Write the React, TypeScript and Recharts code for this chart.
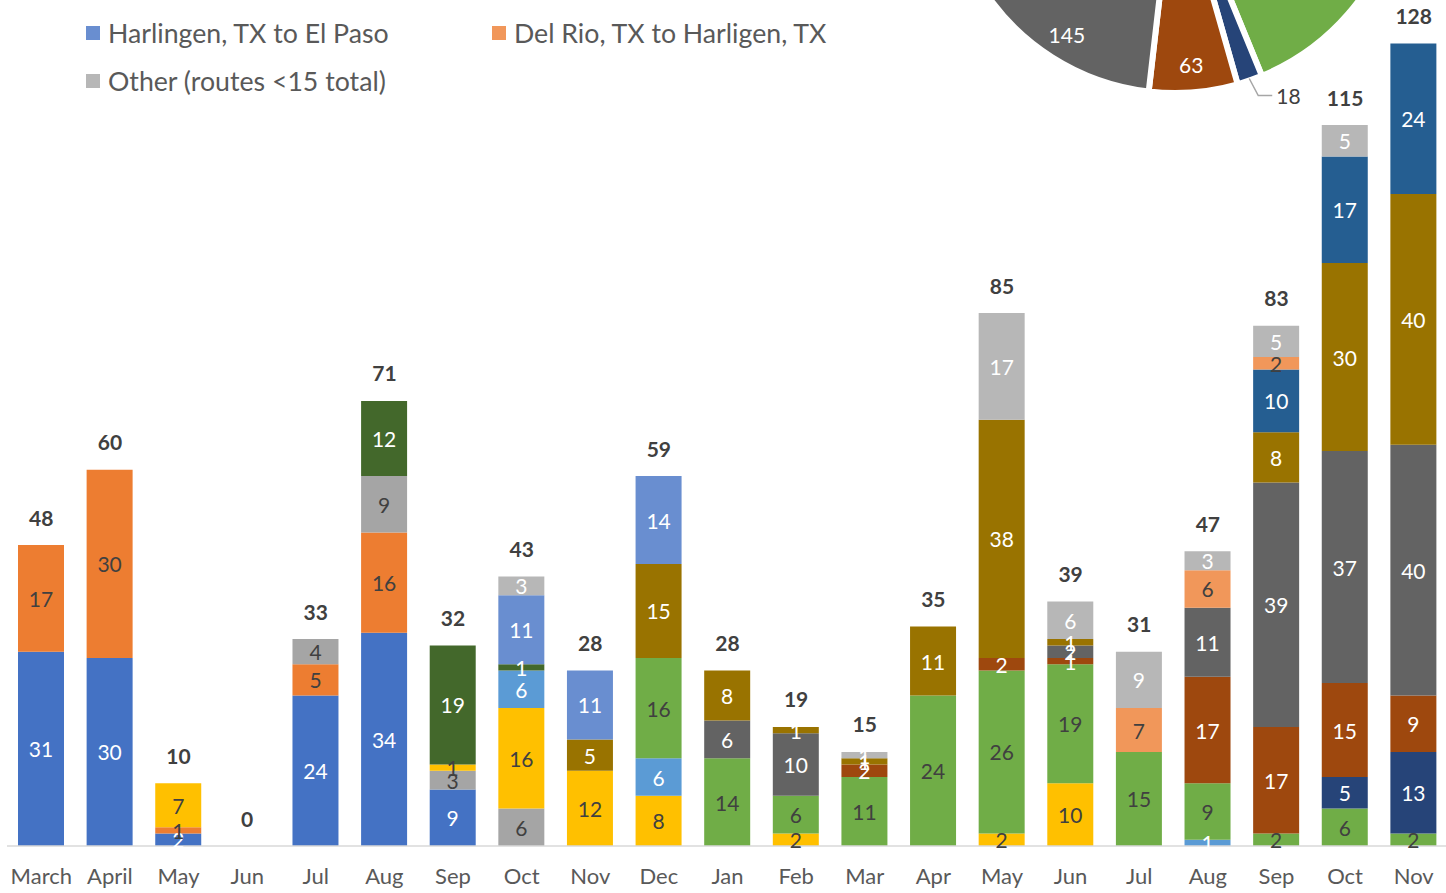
import { ComposedChart, Bar, Line, XAxis, YAxis, LabelList, PieChart, Pie, Cell } from 'recharts';

const months = [
  'March', 'April', 'May', 'Jun', 'Jul', 'Aug', 'Sep', 'Oct', 'Nov', 'Dec',
  'Jan', 'Feb', 'Mar', 'Apr', 'May', 'Jun', 'Jul', 'Aug', 'Sep', 'Oct', 'Nov',
];

// one array per route, 21 months each (0 = no trips that month)
const route1 = [31, 30, 2, 0, 24, 34, 9, 0, 0, 0, 0, 0, 0, 0, 0, 0, 0, 0, 0, 0, 0];
const route2 = [17, 30, 1, 0, 5, 16, 0, 0, 0, 0, 0, 0, 0, 0, 0, 0, 0, 0, 0, 0, 0];
const route3 = [0, 0, 0, 0, 4, 9, 3, 6, 0, 0, 0, 0, 0, 0, 0, 0, 0, 0, 0, 0, 0];
const route4 = [0, 0, 7, 0, 0, 0, 1, 16, 12, 8, 0, 2, 0, 0, 2, 10, 0, 0, 0, 0, 0];
const route5 = [0, 0, 0, 0, 0, 0, 0, 6, 0, 6, 0, 0, 0, 0, 0, 0, 0, 1, 0, 0, 0];
const route6 = [0, 0, 0, 0, 0, 0, 0, 0, 0, 16, 14, 6, 11, 24, 26, 19, 15, 9, 2, 6, 2];
const route7 = [0, 0, 0, 0, 0, 0, 0, 0, 0, 0, 0, 0, 0, 0, 0, 0, 0, 0, 0, 5, 13];
const route8 = [0, 0, 0, 0, 0, 0, 0, 0, 0, 0, 0, 0, 2, 0, 2, 1, 0, 17, 17, 15, 9];
const route9 = [0, 0, 0, 0, 0, 0, 0, 0, 0, 0, 6, 10, 0, 0, 0, 2, 0, 11, 39, 37, 40];
const route10 = [0, 0, 0, 0, 0, 0, 0, 0, 5, 15, 8, 1, 1, 11, 38, 1, 0, 0, 8, 30, 40];
const route11 = [0, 0, 0, 0, 0, 0, 0, 0, 0, 0, 0, 0, 0, 0, 0, 0, 0, 0, 10, 17, 24];
const route12 = [0, 0, 0, 0, 0, 12, 19, 1, 0, 0, 0, 0, 0, 0, 0, 0, 0, 0, 0, 0, 0];
const harlingenElPaso = [0, 0, 0, 0, 0, 0, 0, 11, 11, 14, 0, 0, 0, 0, 0, 0, 0, 0, 0, 0, 0];
const delRioHarlingen = [0, 0, 0, 0, 0, 0, 0, 0, 0, 0, 0, 0, 0, 0, 0, 0, 7, 6, 2, 0, 0];
const other = [0, 0, 0, 0, 0, 0, 0, 3, 0, 0, 0, 0, 1, 0, 17, 6, 9, 3, 5, 5, 0];

const series = [
  { key: 'r1', name: 'Route 1', values: route1, color: '#4472C4', dark: false },
  { key: 'r2', name: 'Route 2', values: route2, color: '#ED7D31', dark: true },
  { key: 'r3', name: 'Route 3', values: route3, color: '#A5A5A5', dark: true },
  { key: 'r4', name: 'Route 4', values: route4, color: '#FFC000', dark: true },
  { key: 'r5', name: 'Route 5', values: route5, color: '#5B9BD5', dark: false },
  { key: 'r6', name: 'Route 6', values: route6, color: '#70AD47', dark: true },
  { key: 'r7', name: 'Route 7', values: route7, color: '#264478', dark: false },
  { key: 'r8', name: 'Route 8', values: route8, color: '#9E480E', dark: false },
  { key: 'r9', name: 'Route 9', values: route9, color: '#636363', dark: false },
  { key: 'r10', name: 'Route 10', values: route10, color: '#997300', dark: false },
  { key: 'r11', name: 'Route 11', values: route11, color: '#255E91', dark: false },
  { key: 'r12', name: 'Route 12', values: route12, color: '#43682B', dark: false },
  { key: 'r13', name: 'Harlingen, TX to El Paso', values: harlingenElPaso, color: '#698ED0', dark: false },
  { key: 'r14', name: 'Del Rio, TX to Harligen, TX', values: delRioHarlingen, color: '#F1975A', dark: true },
  { key: 'r15', name: 'Other (routes <15 total)', values: other, color: '#B7B7B7', dark: false },
];

const legendShown = ['r13', 'r14', 'r15'];

const data = months.map((m, i) => {
  const row: Record<string, string | number> = { month: m };
  series.forEach((s) => (row[s.key] = s.values[i]));
  row.total = series.reduce((sum, s) => sum + s.values[i], 0);
  return row;
});
const pieData = series.map((s) => ({ name: s.name, value: s.values.reduce((a, b) => a + b, 0), color: s.color }));

const FONT = 'Lato, "Open Sans", sans-serif';
const RADIAN = Math.PI / 180;

function segmentLabel(dark: boolean) {
  return (props: any) => {
    const { x, y, width, height, value } = props;
    if (!value) return null;
    return (
      <text
        x={x + width / 2}
        y={y + height / 2}
        textAnchor="middle"
        dominantBaseline="central"
        fontSize={21}
        fontFamily={FONT}
        fill={dark ? '#404040' : '#ffffff'}
      >
        {value}
      </text>
    );
  };
}

const totalLabel = (props: any) => {
  const { x, y, value } = props;
  return (
    <text
      x={x}
      y={y - 28}
      textAnchor="middle"
      dominantBaseline="central"
      fontSize={21}
      fontWeight="bold"
      fontFamily={FONT}
      fill="#404040"
    >
      {value}
    </text>
  );
};

const pieLabel = (props: any) => {
  const { cx, cy, midAngle, outerRadius, value } = props;
  const cos = Math.cos(-midAngle * RADIAN);
  const sin = Math.sin(-midAngle * RADIAN);
  if (value >= 20) {
    // best-fit style: labels near the bottom sit close to the rim
    const r = outerRadius * (Math.abs(sin) > 0.8 ? 0.88 : 0.7);
    return (
      <text x={cx + r * cos} y={cy + r * sin} textAnchor="middle" dominantBaseline="central"
        fontSize={21} fontFamily={FONT} fill="#ffffff">
        {value}
      </text>
    );
  }
  const sx = cx + (outerRadius - 2) * cos;
  const sy = cy + (outerRadius - 2) * sin;
  const mx = sx + 9;
  const my = sy + 17;
  const ex = mx + 14;
  return (
    <g>
      <path d={`M${sx},${sy}L${mx},${my}L${ex},${my}`} stroke="#A6A6A6" strokeWidth={1.5} fill="none" />
      <text x={ex + 4} y={my} textAnchor="start" dominantBaseline="central" fontSize={21}
        fontFamily={FONT} fill="#404040">
        {value}
      </text>
    </g>
  );
};

export default function App() {
  return (
    <div
      style={{
        position: 'fixed', top: 0, left: 0, width: 1446, height: 893,
        overflow: 'hidden', background: '#fff', fontFamily: FONT,
      }}
    >
      <ComposedChart width={1456} height={893} data={data} margin={{ top: 31, right: 8, left: 7, bottom: 0 }}>
        <XAxis
          dataKey="month"
          height={47}
          axisLine={{ stroke: '#D9D9D9', strokeWidth: 1.5 }}
          tickLine={false}
          tickMargin={16}
          interval={0}
          tick={{ fontSize: 22, fill: '#595959', fontFamily: FONT }}
        />
        <YAxis hide domain={[0, 130]} />
        {series.map((s) => (
          <Bar key={s.key} dataKey={s.key} name={s.name} stackId="a" fill={s.color} barSize={46}
            isAnimationActive={false}>
            <LabelList dataKey={s.key} content={segmentLabel(s.dark)} />
          </Bar>
        ))}
        <Line dataKey="total" stroke="none" dot={false} activeDot={false} legendType="none"
          isAnimationActive={false}>
          <LabelList dataKey="total" content={totalLabel} />
        </Line>
      </ComposedChart>

      <div style={{ position: 'absolute', left: 86, top: 19, width: 820, display: 'grid',
        gridTemplateColumns: '406px 406px', rowGap: 20, fontSize: 26.7, color: '#595959' }}>
        {series.filter((s) => legendShown.includes(s.key)).map((s) => (
          <div key={s.key} style={{ display: 'flex', alignItems: 'center', height: 28 }}>
            <span style={{ width: 14, height: 14, background: s.color, marginRight: 8, flex: 'none' }} />
            <span style={{ whiteSpace: 'nowrap' }}>{s.name}</span>
          </div>
        ))}
      </div>

      <div style={{ position: 'absolute', left: 870, top: -341 }}>
        <PieChart width={600} height={500}>
          <Pie
            data={pieData}
            dataKey="value"
            cx={300}
            cy={200}
            outerRadius={229}
            startAngle={90}
            endAngle={-270}
            stroke="#ffffff"
            strokeWidth={6}
            label={pieLabel}
            labelLine={false}
            isAnimationActive={false}
          >
            {pieData.map((d) => (
              <Cell key={d.name} fill={d.color} />
            ))}
          </Pie>
        </PieChart>
      </div>
    </div>
  );
}
